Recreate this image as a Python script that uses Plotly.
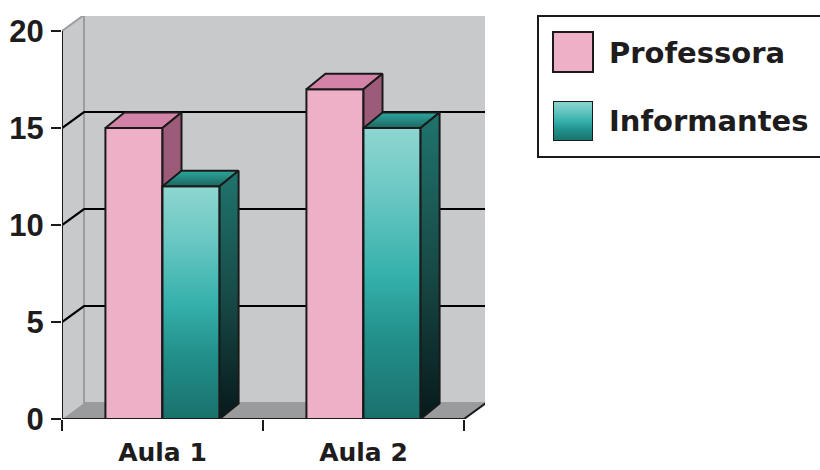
import plotly.graph_objects as go

# ---------------- data ----------------
categories = ["Aula 1", "Aula 2"]
series_names = ["Professora", "Informantes"]
professora = [15, 17]
informantes = [12, 15]
y_ticks = [0, 5, 10, 15, 20]

# ---------------- geometry / style ----------------
W, H = 820, 470
PX_LEFT, PX_RIGHT = 62, 485      # plot area in pixels
PX_BOTTOM, PX_TOP = 419, 16
PX_PER_CAT = 201.0
PX_PER_UNIT = 19.4
XMAX = (PX_RIGHT - PX_LEFT) / PX_PER_CAT
YMAX = (PX_BOTTOM - PX_TOP) / PX_PER_UNIT
OX, OY = 22 / PX_PER_CAT, 16 / PX_PER_UNIT      # wall depth
BX, BY = 19 / PX_PER_CAT, 15.5 / PX_PER_UNIT    # bar depth
BAR_W = 0.284
NCAT = len(categories)
TOP = y_ticks[-1]

WALL = "#C8C9CB"
WALL_EDGE = "#9C9D9F"
FLOOR = "#9A9B9D"
PINK_FRONT = "#EEB0C7"
PINK_TOP = "#D283A7"
PINK_SIDE = "#9C5B79"
TEAL_FRONT_CS = [[0, "#1A716C"], [0.28, "#22908B"], [0.5, "#36B1AC"],
                 [0.78, "#6CC8C3"], [1, "#8ED6D1"]]
TEAL_SIDE_CS = [[0, "#07191A"], [0.5, "#184B47"], [1, "#1F746E"]]
TEAL_TOP_CS = [[0, "#1C665F"], [1, "#2CA8A0"]]
OUT = "#1A1A1A"
TXT = "#1E1C1D"

fig = go.Figure()

# front faces as real bars
fig.add_trace(go.Bar(x=[i + 0.5 for i in range(NCAT)], y=professora, name=series_names[0],
                     width=BAR_W, offset=-BAR_W, marker=dict(color=PINK_FRONT, line=dict(color=OUT, width=2)),
                     showlegend=False, hoverinfo="skip"))
fig.add_trace(go.Bar(x=[i + 0.5 for i in range(NCAT)], y=informantes, name=series_names[1],
                     width=BAR_W, offset=0, marker=dict(color="#36B1AC", line=dict(color=OUT, width=2)),
                     showlegend=False, hoverinfo="skip"))


def poly(xs, ys, color=None, grad=None):
    kw = dict(x=xs + [xs[0]], y=ys + [ys[0]], mode="lines", fill="toself",
              line=dict(color=OUT, width=2), showlegend=False, hoverinfo="skip")
    if grad is not None:
        kw["fillgradient"] = dict(type="vertical", colorscale=grad)
        kw["fillcolor"] = grad[len(grad) // 2][1]
    else:
        kw["fillcolor"] = color
    fig.add_trace(go.Scatter(**kw))


for i in range(NCAT):
    c = i + 0.5
    # Professora
    v = professora[i]
    x0, x1 = c - BAR_W, c
    poly([x0, x1, x1 + BX, x0 + BX], [v, v, v + BY, v + BY], PINK_TOP)
    poly([x1, x1 + BX, x1 + BX, x1], [0, BY, v + BY, v], PINK_SIDE)
    # Informantes
    v = informantes[i]
    x0, x1 = c, c + BAR_W
    poly([x0, x1, x1, x0], [0, 0, v, v], grad=TEAL_FRONT_CS)
    poly([x0, x1, x1 + BX, x0 + BX], [v, v, v + BY, v + BY], grad=TEAL_TOP_CS)
    poly([x1, x1 + BX, x1 + BX, x1], [0, BY, v + BY, v], grad=TEAL_SIDE_CS)

# ---------------- walls, floor, gridlines ----------------
shapes = []
shapes.append(dict(type="path", xref="x", yref="y", layer="below",
                   path=f"M0,0 L{OX},{OY} L{OX},{TOP + OY} L0,{TOP} Z",
                   fillcolor=WALL, line=dict(width=0)))
shapes.append(dict(type="rect", xref="x", yref="y", layer="below",
                   x0=OX, x1=NCAT + OX, y0=OY, y1=TOP + OY,
                   fillcolor=WALL, line=dict(color=WALL_EDGE, width=2)))
shapes.append(dict(type="path", xref="x", yref="y", layer="below",
                   path=f"M0,0 L{NCAT},0 L{NCAT + OX},{OY} L{OX},{OY} Z",
                   fillcolor=FLOOR, line=dict(width=0)))
for v in y_ticks[1:-1]:
    shapes.append(dict(type="path", xref="x", yref="y", layer="below",
                       path=f"M0,{v} L{OX},{v + OY} L{NCAT + OX},{v + OY}",
                       line=dict(color="#000000", width=2.2)))
shapes.append(dict(type="line", xref="x", yref="y", layer="below",
                   x0=0, y0=TOP, x1=OX, y1=TOP + OY, line=dict(color=WALL_EDGE, width=2)))
# front axis lines
shapes.append(dict(type="line", xref="x", yref="y", layer="above",
                   x0=0, y0=0, x1=0, y1=TOP, line=dict(color=OUT, width=2)))
shapes.append(dict(type="path", xref="x", yref="y", layer="above",
                   path=f"M0,0 L{NCAT},0 L{NCAT + OX},{OY}", line=dict(color=OUT, width=2)))

# ---------------- custom legend ----------------
def px(x):
    return x / W


def py(y):
    return 1 - y / H


shapes.append(dict(type="rect", xref="paper", yref="paper", layer="below",
                   x0=px(538), x1=px(840), y0=py(157), y1=py(16),
                   line=dict(color=OUT, width=2), fillcolor="rgba(0,0,0,0)"))
shapes.append(dict(type="rect", xref="paper", yref="paper", x0=px(553), x1=px(593), y0=py(72), y1=py(32),
                   line=dict(color=OUT, width=2), fillcolor=PINK_FRONT))
fig.add_trace(go.Scatter(x=[0, 1, 1, 0, 0], y=[0, 0, 1, 1, 0], xaxis="x2", yaxis="y2", mode="lines",
                         fill="toself", fillgradient=dict(type="vertical", colorscale=TEAL_FRONT_CS),
                         line=dict(color=OUT, width=2), showlegend=False, hoverinfo="skip", cliponaxis=False))

legend_font = dict(family="DejaVu Sans", size=29, color=TXT, weight="bold")
annotations = []
for name, yc in zip(series_names, [53, 121]):
    annotations.append(dict(text=name, xref="paper", yref="paper", x=px(607), y=py(yc),
                            xanchor="left", yanchor="middle", showarrow=False, font=legend_font))

fig.update_layout(
    width=W, height=H, margin=dict(l=0, r=0, t=0, b=0, autoexpand=False),
    paper_bgcolor="white", plot_bgcolor="rgba(0,0,0,0)",
    barmode="overlay", showlegend=False,
    shapes=shapes, annotations=annotations,
    xaxis=dict(domain=[PX_LEFT / W, PX_RIGHT / W], range=[0, XMAX], automargin=False,
               tickmode="array", tickvals=[i + 0.5 for i in range(NCAT)], ticktext=categories,
               ticks="", showgrid=False, zeroline=False, showline=False,
               tickfont=dict(family="DejaVu Sans", size=25, color=TXT, weight="bold"),
               ticklabelstandoff=16,
               minor=dict(ticks="outside", tickmode="array", tickvals=list(range(NCAT + 1)),
                          ticklen=11, tickwidth=2, tickcolor=OUT, showgrid=False)),
    yaxis=dict(domain=[1 - PX_BOTTOM / H, 1 - PX_TOP / H], range=[0, YMAX], automargin=False,
               tickmode="array", tickvals=y_ticks, ticks="outside", ticklen=10, tickwidth=2, tickcolor=OUT,
               showgrid=False, zeroline=False, showline=False,
               tickfont=dict(family="Liberation Sans", size=31, color=TXT, weight="bold"),
               ticklabelstandoff=1),
    xaxis2=dict(domain=[px(553), px(593)], range=[0, 1], visible=False, anchor="y2", automargin=False),
    yaxis2=dict(domain=[py(141), py(101)], range=[0, 1], visible=False, anchor="x2", automargin=False),
)

fig.write_html("out.html")
